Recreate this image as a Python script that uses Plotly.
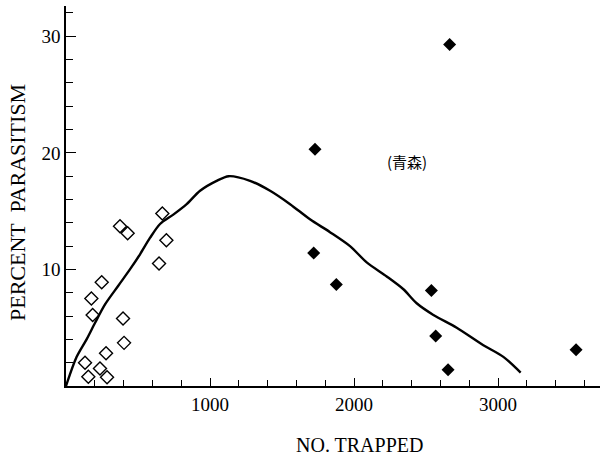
import plotly.graph_objects as go

# Open diamonds (x = number trapped, y = percent parasitism)
open_x = [375, 428, 669, 697, 646, 248, 176, 185, 396, 403, 278, 132, 236, 155, 285]
open_y = [13.7, 13.1, 14.8, 12.5, 10.5, 8.9, 7.5, 6.1, 5.8, 3.7, 2.8, 2.0, 1.5, 0.8, 0.75]

# Filled diamonds
fill_x = [1729, 1720, 1877, 2537, 2567, 3542, 2664, 2653]
fill_y = [20.3, 11.4, 8.7, 8.2, 4.3, 3.1, 29.3, 1.4]

# Fitted curve
curve_x = [0, 74, 143, 201, 271, 363, 444, 514, 583, 653, 745, 838, 931, 1046, 1130,
           1278, 1417, 1556, 1694, 1833, 1972, 2088, 2227, 2343, 2435, 2551, 2713,
           2898, 3037, 3157]
curve_y = [0, 2.5, 4.0, 5.4, 7.0, 8.6, 10.0, 11.3, 12.7, 13.9, 14.7, 15.6, 16.75, 17.6, 18.0,
           17.6, 16.75, 15.6, 14.3, 13.2, 12.0, 10.6, 9.4, 8.3, 7.1, 6.1, 5.0,
           3.5, 2.5, 1.15]

x_ticks = [1000, 2000, 3000]
y_ticks = [10, 20, 30]
place_label = "(青森)"
place_xy = (2368, 19.3)

FONT = "Liberation Serif"

# plot area in pixels
L, R, T, B = 66, 600, 6, 386
W, H = R - L, B - T


def px_to_paper(px, py):
    return (px - L) / W, (B - py) / H


fig = go.Figure()
fig.add_trace(go.Scatter(x=curve_x, y=curve_y, mode="lines",
                         line=dict(color="black", width=2.4, shape="spline", smoothing=0.8),
                         hoverinfo="skip"))
fig.add_trace(go.Scatter(x=open_x, y=open_y, mode="markers",
                         marker=dict(symbol="diamond-open", size=10, color="black",
                                     line=dict(width=1.4, color="black"))))
fig.add_trace(go.Scatter(x=fill_x, y=fill_y, mode="markers",
                         marker=dict(symbol="diamond", size=10, color="black")))

fig.add_annotation(x=place_xy[0], y=place_xy[1], text=place_label, showarrow=False,
                   font=dict(family="Noto Sans CJK JP", size=15, color="black"))

xt = px_to_paper(359, 445)
fig.add_annotation(x=xt[0], y=xt[1], xref="paper", yref="paper",
                   xanchor="center", yanchor="middle", showarrow=False,
                   text="NO. TRAPPED", font=dict(family=FONT, size=20, color="black"))
yt = px_to_paper(18, 203)
fig.add_annotation(x=yt[0], y=yt[1], xref="paper", yref="paper",
                   xanchor="center", yanchor="middle", showarrow=False, textangle=-90,
                   text="PERCENT  PARASITISM", font=dict(family=FONT, size=22, color="black"))

fig.update_layout(
    width=600, height=459,
    margin=dict(l=L, r=600 - R, t=T, b=459 - B, autoexpand=False),
    paper_bgcolor="white", plot_bgcolor="white",
    showlegend=False,
    font=dict(family=FONT, color="black"),
    xaxis=dict(range=[0, 3708], showgrid=False, zeroline=False, automargin=False,
               showline=True, linecolor="black", linewidth=1.5,
               tickmode="array", tickvals=x_ticks, ticktext=[str(v) for v in x_ticks],
               ticks="inside", ticklen=8, tickwidth=1, tickcolor="black",
               minor=dict(dtick=200, ticks="inside", ticklen=6, tickcolor="black", tickwidth=1),
               tickfont=dict(family=FONT, size=19, color="black")),
    yaxis=dict(range=[0, 32.6], showgrid=False, zeroline=False, automargin=False,
               showline=True, linecolor="black", linewidth=1.5,
               tickmode="array", tickvals=y_ticks, ticktext=[str(v) for v in y_ticks],
               ticks="inside", ticklen=10, tickwidth=1, tickcolor="black",
               minor=dict(dtick=2, ticks="inside", ticklen=7, tickcolor="black", tickwidth=1),
               tickfont=dict(family=FONT, size=19, color="black")),
)

fig.write_html("out.html", config={"displayModeBar": False},
               post_script="document.body.style.margin='0';document.body.style.overflow='hidden';")
